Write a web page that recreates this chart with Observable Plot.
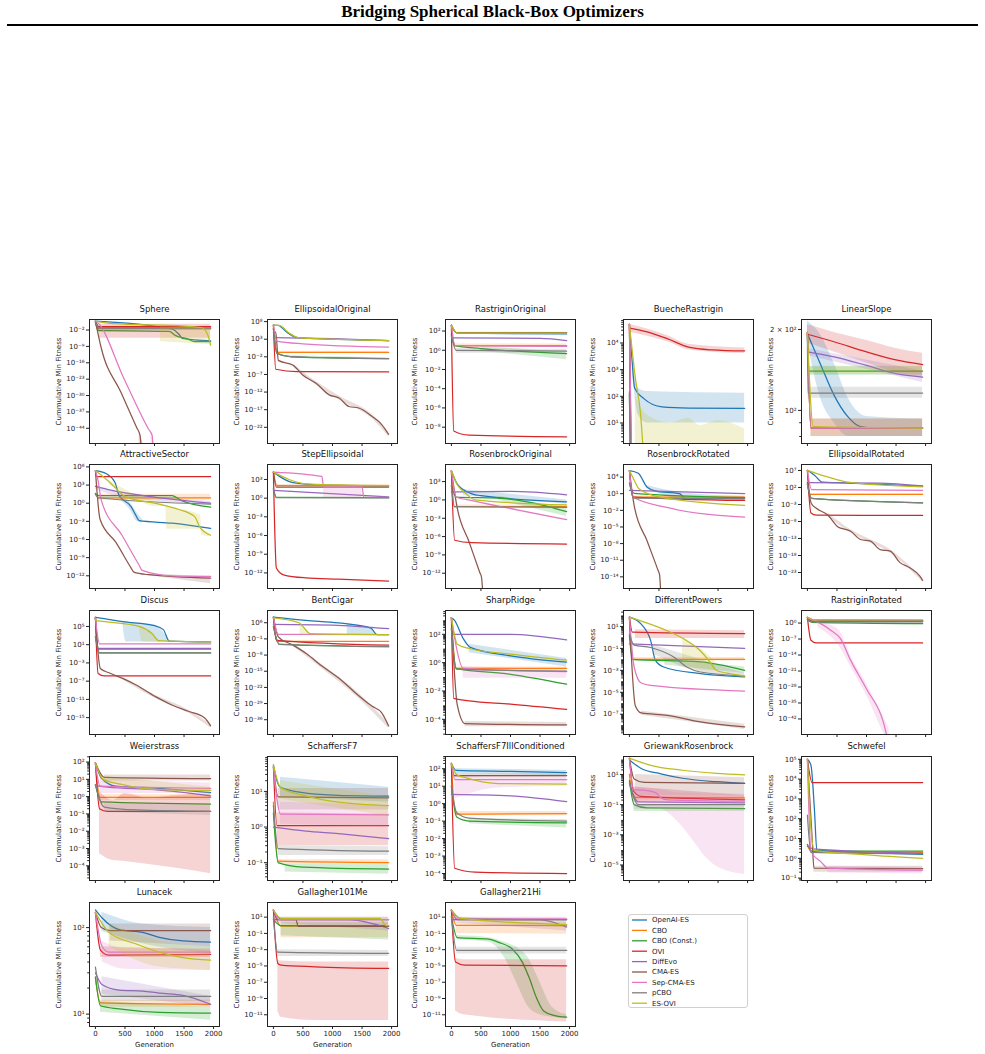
<!DOCTYPE html>
<html>
<head>
<meta charset="utf-8">
<script src="https://cdn.jsdelivr.net/npm/d3@7"></script>
<script src="https://cdn.jsdelivr.net/npm/@observablehq/plot@0.6"></script>
<style>
  body { margin: 0; background: #fff; }
  #page { position: relative; width: 985px; height: 1054px; overflow: hidden; font-family: "DejaVu Sans", sans-serif; }
  #title { position: absolute; left: 0; top: 2px; width: 985px; text-align: center; font: bold 17px "Liberation Serif", "Times New Roman", serif; color: #000; }
  #rule { position: absolute; left: 7px; top: 24px; width: 971px; height: 2px; background: #000; }
  .panel { position: absolute; }
  #legend { position: absolute; left: 628px; top: 914px; }
</style>
</head>
<body>
<div id="page">
  <div id="title">Bridging Spherical Black-Box Optimizers</div>
  <div id="rule"></div>
  <div id="legend"></div>
</div>
<script>
// Optimizers, in legend order, with their matplotlib tab10 colours
const seriesNames = ["OpenAI-ES", "CBO", "CBO (Const.)", "OVI", "DiffEvo", "CMA-ES", "Sep-CMA-ES", "pCBO", "ES-OVI"];
const seriesColors = ["#1f77b4", "#ff7f0e", "#2ca02c", "#d62728", "#9467bd", "#8c564b", "#e377c2", "#7f7f7f", "#bcbd22"];

const panelTitles = ["Sphere", "EllipsoidalOriginal", "RastriginOriginal", "BuecheRastrigin", "LinearSlope",
  "AttractiveSector", "StepEllipsoidal", "RosenbrockOriginal", "RosenbrockRotated", "EllipsoidalRotated",
  "Discus", "BentCigar", "SharpRidge", "DifferentPowers", "RastriginRotated",
  "Weierstrass", "SchaffersF7", "SchaffersF7IllConditioned", "GriewankRosenbrock", "Schwefel",
  "Lunacek", "Gallagher101Me", "Gallagher21Hi"];

// log10 of the y-axis limits of each panel
const yDomainExp = [[-50.5, 2.5], [-26.6, 8.6], [-9.7, 3.2], [0.23, 4.88], [1.877, 2.338],
  [-14.1, 6.4], [-14.5, 5.4], [-14.5, 5.8], [-16.1, 6.27], [-27.7, 8.75],
  [-18.7, 8.5], [-42.4, 11.3], [-5.07, 3.68], [-8.85, 2.45], [-48.8, 5.5],
  [-4.85, 2.32], [-1.5, 1.98], [-4.4, 2.7], [-6.03, 2.19], [-1.12, 5.14],
  [0.857, 2.29], [-12.44, 2.8], [-12.44, 2.8]];

const yTickValues = [
  [1e-2, 1e-9, 1e-16, 1e-23, 1e-30, 1e-37, 1e-44],
  [1e8, 1e3, 1e-2, 1e-7, 1e-12, 1e-17, 1e-22],
  [1e2, 1, 1e-2, 1e-4, 1e-6, 1e-8],
  [1e1, 1e2, 1e3, 1e4],
  [1e2, 2e2],
  [1e6, 1e3, 1, 1e-3, 1e-6, 1e-9, 1e-12],
  [1e3, 1, 1e-3, 1e-6, 1e-9, 1e-12],
  [1e3, 1, 1e-3, 1e-6, 1e-9, 1e-12],
  [1e4, 1e1, 1e-2, 1e-5, 1e-8, 1e-11, 1e-14],
  [1e7, 1e2, 1e-3, 1e-8, 1e-13, 1e-18, 1e-23],
  [1e5, 1e1, 1e-3, 1e-7, 1e-11, 1e-15],
  [1e6, 1e-1, 1e-8, 1e-15, 1e-22, 1e-29, 1e-36],
  [1e2, 1, 1e-2, 1e-4],
  [1e1, 1e-1, 1e-3, 1e-5, 1e-7],
  [1, 1e-7, 1e-14, 1e-21, 1e-28, 1e-35, 1e-42],
  [1e2, 1e1, 1, 1e-1, 1e-2, 1e-3, 1e-4],
  [1e1, 1, 1e-1],
  [1e2, 1e1, 1, 1e-1, 1e-2, 1e-3, 1e-4],
  [1e1, 1e-1, 1e-3, 1e-5],
  [1e5, 1e4, 1e3, 1e2, 1e1, 1, 1e-1],
  [1e1, 1e2],
  [1e1, 1e-1, 1e-3, 1e-5, 1e-7, 1e-9, 1e-11],
  [1e1, 1e-1, 1e-3, 1e-5, 1e-7, 1e-9, 1e-11]];

const xTickValues = [0, 500, 1000, 1500, 2000];

// Each panel: one entry per optimizer (legend order):
// [ [[generation, mean cumulative min fitness], ...], optional [[generation, lower, upper], ...] ]
const sphere = [
  [[[0, 6e1], [1300, 2.5e-2], [1420, 1e-4], [1470, 3e-6], [1950, 2.5e-7]]],
  [[[0, 3e1], [60, 3e-2], [1950, 3e-2]]],
  [[[0, 1e1], [60, 5e-3], [1250, 3e-3], [1350, 5e-5], [1550, 2e-6], [1680, 1e-7], [1950, 1.2e-7]]],
  [[[0, 6e1], [60, 3e-1], [1950, 3e-1]], [[60, 3e-6, 3], [1950, 3e-6, 3]]],
  [[[0, 6e1], [60, 1e-1], [1950, 8e-2]]],
  [[[0, 6e1], [100, 1.6e-10], [430, 3e-29], [700, 1.6e-44], [756, 1e-47], [790, 1e-60]], [[740, 1e-60, 1e-46], [800, 1e-60, 1e-50]]],
  [[[0, 6e1], [30, 2e1], [480, 2.5e-23], [900, 4e-45], [960, 1e-47], [985, 1e-60]], [[940, 1e-60, 1e-45], [990, 1e-60, 1e-50]]],
  [[[0, 3e1], [60, 6e-2], [1950, 6e-2]]],
  [[[0, 6e1], [300, 5], [1500, 5e-1], [1800, 1e-1], [1900, 1e-4], [1950, 3e-9]], [[1100, 1e-7, 5e-1], [1950, 5e-9, 1e-1]]]
];

const ellipsoidalOriginal = [
  [[[0, 1e7], [80, 8e6], [250, 5e4], [400, 3e3], [1000, 1e3], [1950, 4e2]]],
  [[[0, 1e7], [60, 2e-1], [1950, 2e-1]], [[60, 1e-1, 4e-1], [1950, 1e-1, 4e-1]]],
  [[[0, 1e6], [60, 1e-1], [300, 1e-2], [1000, 5e-3], [1950, 3e-3]], [[300, 5e-3, 2e-2], [1950, 1.5e-3, 5e-3]]],
  [[[0, 1e7], [40, 3e-6], [400, 6e-7], [1950, 5e-7]]],
  [[[0, 3e3], [1000, 1.5e3], [1950, 4e2]]],
  [[[0, 1e5], [40, 1e5], [83, 1e-3], [333, 4e-5], [500, 6e-8], [722, 3e-10], [944, 1.6e-13], [1111, 2e-14], [1278, 8e-17], [1444, 3e-17], [1667, 1.3e-19], [1833, 6e-22], [1950, 1e-24]],
   [[333, 1.5e-5, 1e-4], [722, 1e-10, 1e-9], [1111, 6e-15, 8e-14], [1667, 3e-20, 5e-19], [1950, 2e-25, 5e-24]]],
  [[[0, 1e7], [60, 3e2], [500, 5e1], [1950, 6]]],
  [[[0, 1e6], [60, 1e-1], [300, 1.2e-2], [1950, 3e-3]]],
  [[[0, 1e7], [100, 8e6], [270, 5e4], [420, 3e3], [1000, 1e3], [1950, 4e2]]]
];

const rastriginOriginal = [
  [[[0, 4e2], [100, 6e1], [1950, 5e1]]],
  [[[0, 4e2], [60, 3], [1950, 3]], [[60, 2, 4.5], [1950, 2, 4.5]]],
  [[[0, 4e1], [60, 3], [500, 1.5], [1950, 4.5e-1]], [[500, 8e-1, 2.5], [1950, 1e-1, 6e-1]]],
  [[[0, 4e2], [40, 4e-9], [300, 1.5e-9], [1950, 1e-9]]],
  [[[0, 2e1], [50, 2e1], [1500, 1.7e1], [1950, 1e1]]],
  [[[0, 4e2], [80, 7e1], [1950, 7e1]]],
  [[[0, 4e2], [60, 3], [1950, 2.5]]],
  [[[0, 3e1], [80, 1], [1950, 8e-1]], [[80, 5e-1, 1.5], [1950, 5e-1, 1.2]]],
  [[[0, 4e2], [100, 6e1], [1950, 6e1]], [[100, 4.5e1, 8e1], [1950, 4.5e1, 8e1]]]
];

const buecheRastrigin = [
  [[[0, 5e4], [40, 3e3], [90, 2e2], [250, 8e1], [550, 4e1], [1000, 3.6e1], [1950, 3.5e1]],
   [[60, 5e2, 3e3], [150, 2e1, 2e2], [300, 1e1, 1.5e2], [1950, 1e1, 1.3e2]]],
  [[[0, 5e4], [30, 1e-1]]],
  [[[0, 1.2e2], [20, 1e-1]]],
  [[[0, 3.6e4], [300, 2.6e4], [640, 1.45e4], [1000, 7e3], [1400, 5.5e3], [1950, 5e3]],
   [[0, 2.5e4, 5e4], [640, 1.1e4, 1.9e4], [1000, 5.5e3, 9e3], [1950, 4e3, 6.5e3]]],
  [[[0, 5e4], [35, 1e-1]]],
  [[[0, 5e4], [30, 1e-1]]],
  [[[0, 5e4], [40, 1e-1]]],
  [[[0, 1.5e2], [20, 1e-1]]],
  [[[0, 5e4], [100, 5e2], [190, 2e1], [260, 1e-1]],
   [[100, 1e-2, 1e2], [300, 1e-2, 2e1], [700, 1e-2, 1e1], [1000, 1e-2, 1.5e1], [1200, 1e-2, 8], [1500, 1e-2, 1.2e1], [1950, 1e-2, 6]]]
];

const linearSlope = [
  [[[0, 193], [230, 147], [450, 114], [680, 95], [900, 87], [1120, 86], [1950, 86]],
   [[0, 180, 215], [230, 110, 190], [450, 90, 150], [700, 80, 110], [1000, 80, 95], [1950, 80, 93]]],
  [[[0, 195], [60, 86], [1950, 86]], [[60, 80, 93], [1950, 80, 93]]],
  [[[0, 195], [20, 140], [1950, 140]], [[20, 135, 146], [1950, 135, 146]]],
  [[[0, 192], [450, 180], [1000, 165], [1500, 154], [1950, 148]],
   [[0, 178, 208], [450, 165, 195], [1000, 150, 182], [1500, 138, 170], [1950, 133, 163]]],
  [[[0, 165], [450, 158], [1000, 147], [1500, 137], [1950, 133]], [[0, 160, 170], [1950, 127, 140]]],
  [[[0, 195], [60, 86], [1950, 86]], [[60, 80, 93], [1950, 80, 93]]],
  [[[0, 195], [60, 86], [1950, 86]]],
  [[[0, 190], [10, 116], [1950, 116]], [[10, 111, 122], [1950, 111, 122]]],
  [[[0, 195], [100, 87], [1950, 86]], [[20, 136, 145], [1950, 136, 145]]]
];

const attractiveSector = [
  [[[0, 2.5e5], [180, 8e4], [330, 3e3], [400, 2e1], [600, 3e-1], [680, 1.2e-2], [740, 1.3e-3], [1300, 5e-4], [1950, 7e-5]],
   [[400, 5, 5e1], [600, 5e-2, 1], [700, 1e-3, 3e-2], [800, 5e-4, 2e-3]]],
  [[[0, 4e1], [50, 8], [1950, 8]], [[50, 3, 3e1], [1950, 3, 3e1]]],
  [[[0, 4e1], [50, 1.8e1], [1300, 1.8e1], [1450, 3], [1950, 2.2e-1]]],
  [[[0, 2e5], [20, 2.5e4], [1950, 2.5e4]]],
  [[[0, 6e2], [200, 2e2], [1000, 1e1], [1950, 1]], [[0, 2e2, 1e3], [300, 2e1, 1e2], [1950, 5e-1, 2]]],
  [[[0, 2.5e5], [80, 2e-3], [350, 3e-7], [600, 2.3e-11], [650, 4e-12], [900, 1.5e-12], [1950, 4e-13]],
   [[900, 1e-12, 2e-12], [1950, 5e-14, 8e-13]]],
  [[[0, 2.5e5], [40, 1e4], [100, 3], [450, 5e-6], [740, 5.5e-11], [790, 8e-12], [1300, 1e-12], [1950, 8e-13]]],
  [[[0, 3e1], [50, 8], [1950, 7e-1]]],
  [[[0, 2.5e5], [240, 3e3], [520, 1e1], [1000, 1], [1400, 1e-1], [1680, 6e-3], [1770, 1e-4], [1950, 5e-6]],
   [[240, 1e3, 5e3], [700, 3, 2e1], [1000, 3e-1, 2], [1190, 3e-1, 5e-1], [1210, 5e-5, 4e-1], [1780, 5e-5, 1e-2], [1800, 5e-6, 1e-4], [1950, 3e-6, 1e-5]]]
];

const stepEllipsoidal = [
  [[[0, 1.5e4], [330, 3e2], [800, 1.3e2], [1950, 9e1]]],
  [[[0, 1.5e4], [60, 1e2], [1950, 1e2]], [[60, 6e1, 1.5e2], [1950, 6e1, 1.5e2]]],
  [[[0, 3e1], [50, 1.3], [1950, 1.2]]],
  [[[0, 1.5e4], [50, 6e-12], [170, 5e-13], [550, 1.6e-13], [1100, 1e-13], [1950, 5e-14]]],
  [[[0, 1.8e1], [1950, 1.6]]],
  [[[0, 1.5e4], [50, 6e1], [1950, 6e1]]],
  [[[0, 1.5e4], [820, 3e3], [850, 6e1], [1500, 6e1], [1530, 1.3], [1950, 1.3]], [[850, 1.3, 6e1], [1500, 1.3, 6e1]]],
  [[[0, 3e1], [50, 1.2], [1950, 1.1]]],
  [[[0, 1.5e4], [550, 2e2], [1100, 1.3e2], [1950, 1e2]]]
];

const rosenbrockOriginal = [
  [[[0, 6e4], [100, 4e2], [350, 1e1], [500, 5], [1950, 5e-1]], [[200, 5, 5e1], [1950, 2e-1, 1]]],
  [[[0, 6e4], [50, 8e-2], [1950, 8e-2]], [[50, 5e-2, 1.5e-1], [1950, 5e-2, 1.5e-1]]],
  [[[0, 2e2], [80, 3], [800, 2], [1950, 1.2e-2]], [[800, 8e-1, 4], [1950, 2e-3, 5e-2]]],
  [[[0, 6e4], [55, 2.5e-7], [350, 1e-7], [1950, 6e-8]]],
  [[[0, 2e1], [1000, 2.5e1], [1950, 7]]],
  [[[0, 6e4], [100, 4e-2], [300, 1.3e-7], [480, 1.3e-12], [510, 2e-13], [535, 1e-16]]],
  [[[0, 6e4], [80, 3], [350, 8e-1], [1950, 6e-4]]],
  [[[0, 2e2], [50, 8e-2], [1950, 6e-2]]],
  [[[0, 6e4], [100, 3e2], [250, 1e1], [400, 1], [1950, 1.5e-1]]]
];

const rosenbrockRotated = [
  [[[0, 1.5e5], [150, 5e4], [300, 1.5e2], [450, 3e1], [850, 1e1], [950, 1.3], [1950, 1.3]],
   [[300, 8e1, 3e2], [900, 1, 1.5e1], [1950, 5e-1, 3]]],
  [[[0, 1.5e5], [60, 2.5], [1950, 2.5]], [[60, 1.5, 4], [1950, 1.5, 4]]],
  [[[0, 6e2], [80, 1.2e1], [1950, 2]]],
  [[[0, 1.5e5], [55, 2.5], [1950, 6e-1]]],
  [[[0, 4e1], [1950, 1e1]]],
  [[[0, 1.5e5], [80, 8e-2], [300, 3e-8], [480, 2e-13], [510, 2.5e-14], [530, 1e-17]]],
  [[[0, 1.5e5], [60, 2.5], [650, 3e-2], [1950, 6e-4]]],
  [[[0, 1e3], [80, 1.6], [1950, 1.3]]],
  [[[0, 1.5e5], [80, 3e3], [160, 8e1], [520, 2.5], [1950, 8e-2]]]
];

const ellipsoidalRotated = [
  [[[0, 1.1e7], [120, 4e5], [250, 4e3], [500, 2.5e3], [1950, 2.5e2]]],
  [[[0, 1e7], [50, 9e-1], [1950, 9e-1]], [[50, 5e-1, 1.5], [1950, 5e-1, 1.5]]],
  [[[0, 1e3], [70, 6e-2], [1950, 3e-3]]],
  [[[0, 1e7], [60, 3e-6], [150, 7e-7], [1950, 6e-7]]],
  [[[0, 2.5e3], [1200, 2e3], [1950, 3e2]]],
  [[[0, 2.5e3], [67, 2e-3], [150, 8e-5], [344, 8e-7], [511, 3e-10], [733, 1.3e-11], [900, 5e-14], [1067, 1.6e-14], [1233, 5e-17], [1400, 2e-17], [1567, 8e-21], [1733, 2.5e-22], [1900, 1e-24], [1950, 5e-26]],
   [[344, 3e-7, 3e-6], [733, 4e-12, 4e-11], [1067, 5e-15, 5e-14], [1400, 6e-18, 6e-17], [1733, 8e-23, 8e-22], [1950, 1.5e-26, 1.5e-25]]],
  [[[0, 1e7], [70, 2.5e1], [1950, 1.5e1]]],
  [[[0, 1e3], [70, 6e-2], [1950, 3e-3]]],
  [[[0, 1.1e7], [340, 1.3e5], [680, 4e3], [1950, 1.6e2]]]
];

const discus = [
  [[[0, 1e7], [460, 1.2e6], [1000, 1.5e5], [1150, 2e4], [1250, 6e1], [1950, 4e1]],
   [[460, 1.2e6, 1.5e6], [520, 4e1, 1e6], [1000, 4e1, 2e5], [1250, 3e1, 8e1]]],
  [[[0, 1e7], [50, 1], [1950, 1]]],
  [[[0, 6e2], [70, 1.6e-1], [1950, 1.6e-1]]],
  [[[0, 1e7], [45, 5e-6], [150, 1.5e-6], [1950, 1.5e-6]]],
  [[[0, 1e7], [50, 1.5], [1950, 1.5]]],
  [[[0, 1e7], [83, 6e-5], [240, 6e-6], [460, 4e-7], [683, 1.6e-8], [1017, 4e-11], [1294, 6e-13], [1572, 2.5e-14], [1850, 8e-16], [1950, 1.6e-17]],
   [[460, 2e-7, 8e-7], [1017, 1.5e-11, 8e-11], [1572, 1e-14, 5e-14], [1950, 5e-18, 4e-17]]],
  [[[0, 1e7], [70, 1.6e1], [1950, 1.5e1]]],
  [[[0, 6e2], [70, 1.6e-1], [1950, 1.6e-1]]],
  [[[0, 2e6], [200, 1e6], [740, 1e5], [960, 2.5e3], [1070, 8e1], [1950, 4e1]],
   [[740, 8e4, 1.2e5], [800, 4e1, 6e4], [960, 3e1, 5e3], [1100, 3e1, 6e1]]]
];

const bentCigar = [
  [[[0, 2.5e8], [550, 1e7], [1100, 8e5], [1650, 5e3], [1750, 8], [1950, 8]], [[1250, 5, 3e5], [1650, 5, 5e3], [1750, 5, 1e1]]],
  [[[0, 2.5e8], [60, 8e-3], [1950, 8e-3]]],
  [[[0, 2e4], [100, 4e-4], [1950, 4e-5]]],
  [[[0, 2.5e8], [50, 2.5e-2], [1950, 2e-4]]],
  [[[0, 2e5], [1000, 1e5], [1950, 2.5e3]]],
  [[[0, 2.5e8], [83, 8e-1], [333, 2e-4], [555, 5e-8], [833, 1e-13], [1111, 1e-18], [1389, 4e-25], [1667, 8e-31], [1833, 1e-33], [1950, 2e-39]],
   [[333, 5e-5, 1e-3], [833, 1e-14, 5e-13], [1389, 3e-26, 5e-24], [1950, 2e-40, 3e-38]]],
  [[[0, 2.5e8], [80, 1e1], [1950, 8]]],
  [[[0, 2e4], [100, 4e-4], [1950, 4e-5]]],
  [[[0, 1.3e8], [440, 8e5], [620, 2e1], [1950, 8]], [[450, 5, 8e5], [600, 5, 2e2]]]
];

const sharpRidge = [
  [[[0, 1.5e3], [50, 1e3], [200, 5e1], [320, 1.2e1], [1000, 3], [1950, 1.1]], [[300, 5, 2e1], [1950, 5e-1, 2]]],
  [[[0, 1.5e3], [80, 4e-1], [1950, 4e-1]], [[80, 3e-1, 5e-1], [1950, 3e-1, 5e-1]]],
  [[[0, 2.5e2], [80, 4e-1], [1000, 1.5e-1], [1950, 3e-2]]],
  [[[0, 1.5e3], [40, 3e-3], [300, 2e-3], [1000, 1.2e-3], [1950, 5e-4]]],
  [[[0, 1e2], [1000, 1e2], [1950, 4e1]]],
  [[[0, 1.5e3], [100, 1e-3], [230, 5e-5], [1950, 4e-5]], [[230, 3e-5, 7e-5], [1950, 3e-5, 6e-5]]],
  [[[0, 1.5e3], [60, 4e1], [200, 4e-1], [1950, 2.3e-1]], [[200, 8e-2, 5e-1], [1950, 8e-2, 3e-1]]],
  [[[0, 2.5e2], [80, 3.5e-1], [1950, 2.5e-1]]],
  [[[0, 1.5e3], [100, 2e1], [300, 1e1], [1000, 4], [1950, 1.5]]]
];

const differentPowers = [
  [[[0, 7e1], [200, 1.6e1], [360, 5e-1], [440, 8e-3], [580, 2e-3], [1200, 5e-4], [1950, 2.5e-4]]],
  [[[0, 5e1], [50, 1e-2], [1950, 1e-2]], [[50, 7e-3, 1.5e-2], [1950, 7e-3, 1.5e-2]]],
  [[[0, 1.5], [50, 1e-2], [1200, 6e-3], [1950, 1e-3]], [[600, 3e-3, 1e-2], [1950, 5e-4, 2e-3]]],
  [[[0, 7e1], [50, 3], [1950, 2.2]], [[100, 8e-1, 5], [1950, 8e-1, 4]]],
  [[[0, 2.5e-1], [1950, 1e-1]]],
  [[[0, 7e1], [100, 6e-7], [200, 1.3e-7], [640, 8e-8], [1200, 2e-8], [1950, 7e-9]], [[200, 8e-8, 2e-7], [1950, 4e-9, 1.2e-8]]],
  [[[0, 7e1], [80, 2e-3], [200, 7e-5], [400, 4e-5], [1950, 1.3e-5]]],
  [[[0, 2], [80, 2e-1], [360, 1.2e-1], [750, 1.6e-2], [970, 2e-3], [1200, 7e-4], [1950, 3e-4]], [[400, 3e-2, 2e-1], [900, 2e-3, 3e-2], [1950, 2e-4, 5e-4]]],
  [[[0, 7e1], [250, 2.5e1], [640, 4], [970, 5e-1], [1200, 6e-2], [1360, 6e-3], [1470, 1e-3], [1750, 4.5e-4], [1950, 3e-4]],
   [[900, 5e-3, 1], [1200, 1e-3, 1e-1], [1450, 8e-4, 6e-3]]]
];

const rastriginRotated = [
  [[[0, 3e2], [100, 1.5e1], [1950, 1.2e1]]],
  [[[0, 3e2], [80, 8], [1950, 8]], [[80, 5, 1.2e1], [1950, 5, 1.2e1]]],
  [[[0, 3e1], [80, 2], [1950, 5e-1]], [[80, 1, 4], [1950, 2e-1, 1]]],
  [[[0, 3e2], [60, 3e-8], [150, 2e-9], [1950, 2e-9]]],
  [[[0, 3e2], [100, 2e1], [1950, 1.5e1]]],
  [[[0, 3e2], [80, 5], [1950, 5]]],
  [[[0, 3e2], [180, 2.5], [400, 6e-4], [560, 1.5e-7], [730, 6e-17], [1010, 5e-30], [1290, 1.6e-44], [1350, 1e-50]],
   [[180, 1e-2, 5], [400, 1e-6, 1e-1], [560, 1e-11, 1e-4], [730, 1e-19, 1e-14], [1010, 1e-32, 1e-27], [1290, 1e-48, 1e-41], [1380, 1e-52, 1e-46]]],
  [[[0, 3e1], [80, 3], [1950, 3]]],
  [[[0, 3e2], [100, 2.5e1], [1950, 2.5e1]]]
];

const weierstrass = [
  [[[0, 9e1], [100, 1.2e1], [350, 4], [800, 3.4], [1300, 2.6], [1950, 1.7]]],
  [[[0, 8e1], [80, 9e-1], [1950, 9e-1]], [[80, 6e-1, 1.3], [1950, 6e-1, 1.3]]],
  [[[0, 5], [100, 5e-1], [1950, 3.7e-1]]],
  [[[0, 9e1], [70, 2e-1], [200, 1.4e-1], [1950, 1.4e-1]],
   [[70, 5e-4, 2], [300, 2e-4, 6e-1], [500, 1.8e-4, 1.5], [900, 1.2e-4, 8e-1], [1400, 7e-5, 1.2], [1950, 3.5e-5, 1.5]]],
  [[[0, 4.5], [200, 3.5], [1000, 2.5], [1950, 1.1]]],
  [[[0, 9e1], [150, 1.3e1], [1950, 1.1e1]], [[150, 8, 1.8e1], [1950, 8, 1.8e1]]],
  [[[0, 8e1], [80, 4], [1950, 3]], [[80, 1.5, 1e1], [1950, 1.5, 6]]],
  [[[0, 5], [150, 2.5e-1], [700, 1.7e-1], [1950, 1.4e-1]], [[150, 1.2e-1, 4e-1], [1950, 8e-2, 3e-1]]],
  [[[0, 9e1], [130, 1e1], [460, 5], [1000, 2.6], [1950, 2.3]], [[130, 6, 1.5e1], [1950, 1.5, 3.5]]]
];

const schaffersF7 = [
  [[[0, 5.6e1], [60, 2e1], [120, 1.3e1], [550, 9], [1100, 7.8], [1950, 7.4]], [[120, 7, 2.5e1], [1950, 5, 1.3e1]]],
  [[[0, 5], [80, 1.1e-1], [1950, 1e-1]], [[80, 9e-2, 1.2e-1], [1950, 9e-2, 1.2e-1]]],
  [[[0, 2.5], [80, 1e-1], [500, 7.5e-2], [1950, 6.6e-2]], [[200, 5.5e-2, 9e-2], [1950, 4.7e-2, 9e-2]]],
  [[[0, 5e1], [60, 1.1], [1950, 1.1]], [[60, 3e-1, 2.5], [1950, 3e-1, 2.3]]],
  [[[0, 1], [550, 7.7e-1], [1100, 6.5e-1], [1650, 5.3e-1], [1950, 4.7e-1]]],
  [[[0, 5e1], [80, 7], [1950, 6.6]], [[80, 3, 1.2e1], [1950, 3, 1.2e1]]],
  [[[0, 5e1], [60, 6], [120, 2.3], [1950, 2.2]], [[120, 1.2, 5], [1950, 1, 4]]],
  [[[0, 4], [80, 2.5e-1], [1950, 2.1e-1]], [[80, 1.6e-1, 3e-1], [1950, 1.6e-1, 2.8e-1]]],
  [[[0, 5.6e1], [120, 1.3e1], [550, 7.5], [1100, 5], [1950, 4]], [[120, 6, 2e1], [1950, 2, 7]]]
];

const schaffersF7Ill = [
  [[[0, 2e2], [80, 8e1], [1000, 7e1], [1950, 6e1]], [[80, 5e1, 1e2], [1950, 4e1, 8e1]]],
  [[[0, 2e2], [70, 2.5e-1], [1950, 2.7e-1]], [[70, 2e-1, 3.5e-1], [1950, 2e-1, 3.5e-1]]],
  [[[0, 1e1], [90, 1.7e-1], [300, 1e-1], [1950, 8e-2]], [[300, 7e-2, 1.4e-1], [1950, 4e-2, 1.2e-1]]],
  [[[0, 2e2], [55, 2e-4], [400, 1.2e-4], [1950, 1e-4]]],
  [[[0, 3.4], [1000, 2.8], [1950, 1.3]]],
  [[[0, 2e2], [50, 4e1], [1950, 4e1]], [[50, 3e1, 5e1], [1950, 3e1, 5e1]]],
  [[[0, 2e2], [60, 2.4e1], [1950, 2.4e1]], [[60, 2, 4e1], [800, 8, 3e1], [1950, 1e1, 3e1]]],
  [[[0, 1e1], [90, 3e-1], [300, 1.5e-1], [1950, 1e-1]]],
  [[[0, 2e2], [90, 4.5e1], [250, 3e1], [800, 1.4e1], [1950, 1.3e1]]]
];

const griewankRosenbrock = [
  [[[0, 9e1], [200, 2.5e1], [530, 1.1e1], [900, 5.6], [1470, 3.3], [1950, 2.6]]],
  [[[0, 1e1], [70, 3e-1], [1950, 2.8e-1]], [[70, 2e-1, 4e-1], [1950, 2e-1, 4e-1]]],
  [[[0, 4], [80, 1e-1], [300, 6e-2], [1950, 5.5e-2]], [[80, 3.5e-2, 9e-2], [1950, 3.5e-2, 8e-2]]],
  [[[0, 1.2e2], [70, 8e-1], [200, 3.5e-1], [1950, 2.1e-1]], [[70, 1.5e-1, 1.5], [1950, 1.2e-1, 4e-1]]],
  [[[0, 2.5], [150, 1.5e-1], [1950, 1.3e-1]]],
  [[[0, 1.2e2], [80, 5], [250, 3], [1950, 2.6]], [[100, 4e-1, 1e1], [1950, 4e-1, 6]]],
  [[[0, 1.2e2], [70, 1], [250, 9e-1], [450, 6e-1], [530, 2.8e-1], [650, 2.1e-1], [1950, 1.7e-1]],
   [[80, 5e-2, 1.5], [500, 5e-2, 1], [860, 5e-3, 6e-1], [1080, 4e-4, 6e-1], [1300, 3e-5, 5e-1], [1530, 6e-6, 5e-1], [1950, 2.3e-6, 5e-1]]],
  [[[0, 3], [150, 1e-1], [1950, 1e-1]]],
  [[[0, 1.2e2], [360, 4e1], [900, 1.9e1], [1470, 1.2e1], [1950, 9.5]]]
];

const schwefel = [
  [[[0, 1e5], [60, 5e4], [120, 2.5e2], [160, 2.5], [1950, 1.6]]],
  [[[0, 5], [60, 2.2], [1950, 2]]],
  [[[0, 5], [80, 2.3], [1950, 2.3]]],
  [[[0, 1e5], [80, 6.6e3], [1950, 6.6e3]]],
  [[[0, 4], [100, 3], [1950, 1.8]]],
  [[[0, 1e5], [80, 1e1], [110, 3.2e-1], [1950, 3e-1]], [[110, 2e-1, 4e-1], [1950, 2e-1, 4e-1]]],
  [[[0, 1e5], [60, 2.2], [230, 6.6e-1], [350, 3.2e-1], [1950, 2.5e-1]], [[350, 1.8e-1, 4e-1], [1950, 1.6e-1, 3.5e-1]]],
  [[[0, 1.5e2], [60, 2], [1950, 1.7]]],
  [[[0, 1e5], [60, 3e1], [120, 2.5], [1000, 1.5], [1950, 1]]]
];

const lunacek = [
  [[[0, 1.6e2], [110, 1.3e2], [400, 9.5e1], [800, 8.8e1], [1080, 7.7e1], [1480, 7e1], [1950, 6.8e1]],
   [[110, 9e1, 1.5e2], [800, 6.5e1, 1.1e2], [1950, 5e1, 1e2]]],
  [[[0, 2.6e1], [85, 1.35e1], [1950, 1.3e1]], [[85, 1.2e1, 1.45e1], [1950, 1.2e1, 1.45e1]]],
  [[[0, 2.7e1], [85, 1.25e1], [400, 1.15e1], [1080, 1.05e1], [1950, 1.03e1]], [[85, 1.05e1, 1.4e1], [1950, 8.5, 1.2e1]]],
  [[[0, 1.5e2], [85, 5.5e1], [230, 4.8e1], [1950, 4.9e1]], [[85, 4.5e1, 6e1], [1950, 4.5e1, 5.5e1]]],
  [[[0, 3e1], [110, 2.2e1], [400, 1.9e1], [800, 1.85e1], [1080, 1.75e1], [1480, 1.65e1], [1950, 1.3e1]],
   [[110, 1.7e1, 2.7e1], [1950, 1.2e1, 1.6e1]]],
  [[[0, 1.5e2], [100, 1e2], [250, 9.2e1], [1950, 9.2e1]], [[250, 7e1, 1.1e2], [1950, 6e1, 1.1e2]]],
  [[[0, 1.5e2], [115, 6e1], [230, 5.2e1], [1950, 5.2e1]], [[115, 4e1, 7e1], [500, 3.3e1, 5.7e1], [1950, 3.2e1, 5.7e1]]],
  [[[0, 3.5e1], [110, 1.6e1], [1950, 1.6e1]], [[110, 1.4e1, 1.9e1], [1950, 1.4e1, 1.9e1]]],
  [[[0, 1.5e2], [230, 8.8e1], [680, 6.5e1], [1080, 5.2e1], [1480, 4.5e1], [1950, 4.2e1]],
   [[230, 6e1, 1.1e2], [1080, 3.5e1, 7e1], [1950, 3.2e1, 6e1]]]
];

const gallagher101Me = [
  [[[0, 7.6e1], [130, 6], [1950, 5]]],
  [[[0, 7.6e1], [130, 8e-1], [1950, 8e-1]], [[130, 3e-2, 1e1], [1950, 3e-2, 1e1]]],
  [[[0, 5], [130, 9e-1], [1950, 9e-1]], [[130, 5e-2, 2], [1950, 1.5e-2, 2]]],
  [[[0, 7.6e1], [75, 2e-5], [130, 1.3e-5], [700, 8e-6], [1950, 5e-6]],
   [[75, 3e-11, 5e-5], [130, 5e-12, 4e-5], [700, 2e-12, 3e-5], [1950, 2e-12, 3e-5]]],
  [[[0, 5], [1300, 4.5], [1950, 4e-1]], [[0, 2, 1e1], [1950, 2e-1, 1e1]]],
  [[[0, 7.6e1], [70, 5], [380, 5], [420, 7.5e-1], [1950, 7.5e-1]]],
  [[[0, 7.6e1], [100, 5], [1950, 5]]],
  [[[0, 1.2e1], [70, 5e-4], [1950, 3.5e-4]], [[70, 1.5e-4, 1e-3], [1950, 1.5e-4, 8e-4]]],
  [[[0, 7.6e1], [130, 7], [1800, 7], [1900, 1], [1950, 9e-1]]]
];

const gallagher21Hi = [
  [[[0, 7.6e1], [150, 7], [1950, 5]]],
  [[[0, 7.6e1], [80, 1], [1950, 9e-1]], [[80, 1e-1, 2], [1950, 8e-2, 2]]],
  [[[0, 1.2e1], [100, 3e-2], [630, 2e-2], [800, 8e-3], [1030, 1.2e-3], [1200, 3e-5], [1320, 3e-7], [1440, 1.2e-9], [1560, 3e-11], [1750, 8e-12], [1950, 5e-12]],
   [[100, 1.5e-2, 5e-2], [630, 8e-3, 3e-2], [900, 1e-4, 8e-3], [1100, 1e-7, 2e-3], [1300, 1e-10, 1e-4], [1500, 1e-11, 1e-7], [1700, 5e-12, 1e-10], [1950, 3e-12, 1e-11]]],
  [[[0, 7.6e1], [70, 3e-5], [220, 1.3e-5], [1950, 1e-5]],
   [[70, 3e-11, 8e-5], [200, 1e-11, 6e-5], [1950, 1.3e-12, 6e-5]]],
  [[[0, 5], [1500, 4.5], [1950, 6e-1]], [[0, 2, 1e1], [1950, 2e-1, 1e1]]],
  [[[0, 7.6e1], [100, 5], [1950, 5]]],
  [[[0, 7.6e1], [100, 6], [1950, 6]]],
  [[[0, 1.2e1], [90, 8e-4], [1950, 8e-4]], [[90, 3e-4, 2e-3], [1950, 3e-4, 2e-3]]],
  [[[0, 7.6e1], [150, 7], [1950, 1.2]], [[150, 3, 1e1], [1950, 5e-1, 3]]]
];

const panelData = [sphere, ellipsoidalOriginal, rastriginOriginal, buecheRastrigin, linearSlope,
  attractiveSector, stepEllipsoidal, rosenbrockOriginal, rosenbrockRotated, ellipsoidalRotated,
  discus, bentCigar, sharpRidge, differentPowers, rastriginRotated,
  weierstrass, schaffersF7, schaffersF7Ill, griewankRosenbrock, schwefel,
  lunacek, gallagher101Me, gallagher21Hi];

// ---- layout of the 5 x 5 grid (frame positions in page pixels) ----
const colLeft = [89, 267, 445, 623, 801];
const rowTop = [319, 464, 610, 756, 902];
const frameW = 130, frameH = 124;
const mL = 40, mR = 6, mT = 18, mB = 24;

const supMap = {"0": "⁰", "1": "¹", "2": "²", "3": "³", "4": "⁴", "5": "⁵", "6": "⁶", "7": "⁷", "8": "⁸", "9": "⁹", "-": "⁻"};
const sup = n => String(n).split("").map(c => supMap[c]).join("");
function logLabel(v) {
  const e = Math.round(Math.log10(v));
  const m = v / Math.pow(10, e);
  if (Math.abs(m - 1) < 1e-6) return "10" + sup(e);
  return `${Math.round(m)} × 10${sup(e)}`;
}
// matplotlib-style minor ticks (2..9 x 10^k) when the axis spans at most ten decades
function minorTicks(lo, hi, majors) {
  if (Math.floor(hi) - Math.ceil(lo) > 10) return [];
  const out = [];
  for (let k = Math.floor(lo); k <= Math.ceil(hi); k++) {
    for (let m = 2; m <= 9; m++) {
      const v = m * Math.pow(10, k);
      const lv = Math.log10(v);
      if (lv >= lo && lv <= hi && !majors.some(t => Math.abs(t - v) / v < 1e-6)) out.push(v);
    }
  }
  return out;
}

const page = document.getElementById("page");

panelData.forEach((series, i) => {
  const row = Math.floor(i / 5), col = i % 5;
  const bottomRow = i >= 20;
  const [lo, hi] = yDomainExp[i];
  const domain = [Math.pow(10, lo), Math.pow(10, hi)];
  const majors = yTickValues[i].filter(v => Math.log10(v) >= lo - 1e-9 && Math.log10(v) <= hi + 1e-9);
  const minors = minorTicks(lo, hi, majors);

  const marks = [];
  series.forEach(([line, band], s) => {
    if (band) {
      marks.push(Plot.areaY(band.map(([g, l, h]) => ({g, l, h})), {
        x: "g", y1: "l", y2: "h", fill: seriesColors[s], fillOpacity: 0.2, curve: "monotone-x", clip: true
      }));
    }
    marks.push(Plot.line(line.map(([g, v]) => ({g, v})), {
      x: "g", y: "v", stroke: seriesColors[s], strokeWidth: 1.25, curve: "monotone-x", clip: true
    }));
  });

  marks.push(Plot.axisY({ticks: majors, tickFormat: logLabel, tickSize: 3, tickPadding: 2, label: null, anchor: "left"}));
  if (minors.length) marks.push(Plot.axisY({ticks: minors, tickFormat: () => "", tickSize: 1.8, label: null, anchor: "left"}));
  marks.push(Plot.axisX({ticks: xTickValues, tickSize: 3, tickPadding: 2, label: null, anchor: "bottom",
    tickFormat: bottomRow ? d => String(d) : () => ""}));
  marks.push(Plot.frame({stroke: "#222", strokeWidth: 1}));
  marks.push(Plot.text([panelTitles[i]], {text: d => d, frameAnchor: "top", lineAnchor: "middle", dy: -10, fontSize: 8.5, fill: "#111"}));
  marks.push(Plot.text(["Cummulative Min Fitness"], {text: d => d, frameAnchor: "left", textAnchor: "middle", lineAnchor: "middle", rotate: -90, dx: -31, fontSize: 7, fill: "#222"}));
  if (bottomRow) marks.push(Plot.text(["Generation"], {text: d => d, frameAnchor: "bottom", lineAnchor: "middle", dy: 18, fontSize: 7, fill: "#222"}));

  const svg = Plot.plot({
    width: mL + frameW + mR,
    height: mT + frameH + mB,
    marginLeft: mL, marginRight: mR, marginTop: mT, marginBottom: mB,
    x: {domain: [-100, 2100]},
    y: {type: "log", domain},
    style: {fontFamily: "DejaVu Sans, sans-serif", fontSize: "7px", color: "#222", background: "transparent", overflow: "visible"},
    marks
  });
  svg.classList.add("panel");
  svg.style.left = (colLeft[col] - mL) + "px";
  svg.style.top = (rowTop[row] - mT) + "px";
  page.appendChild(svg);
});

// legend box: line swatches with optimizer names
const lg = d3.select("#legend").append("svg").attr("width", 121).attr("height", 95)
  .style("font-family", "DejaVu Sans, sans-serif").style("font-size", "7px");
lg.append("rect").attr("x", 0.5).attr("y", 0.5).attr("width", 119).attr("height", 93).attr("rx", 2.5)
  .attr("fill", "#fff").attr("stroke", "#d0d0d0");
seriesNames.forEach((name, s) => {
  const y = 6 + s * 10.4;
  lg.append("line").attr("x1", 4).attr("x2", 19).attr("y1", y).attr("y2", y)
    .attr("stroke", seriesColors[s]).attr("stroke-width", 1.3);
  lg.append("text").attr("x", 24).attr("y", y).attr("dy", "0.35em").attr("fill", "#222").text(name);
});
</script>
</body>
</html>
